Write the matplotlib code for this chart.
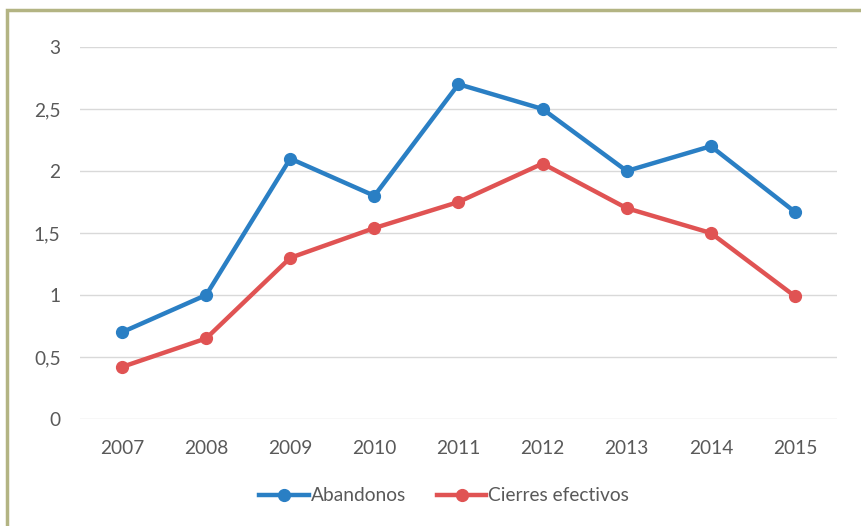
import matplotlib
matplotlib.use("Agg")
import matplotlib.pyplot as plt
from matplotlib.patches import Rectangle
from matplotlib.ticker import FuncFormatter

years = ["2007", "2008", "2009", "2010", "2011", "2012", "2013", "2014", "2015"]
abandonos = [0.7, 1.0, 2.1, 1.8, 2.7, 2.5, 2.0, 2.2, 1.67]
cierres = [0.42, 0.65, 1.30, 1.54, 1.75, 2.06, 1.70, 1.50, 0.99]
yticks = [0, 0.5, 1, 1.5, 2, 2.5, 3]

plt.rcParams['font.family'] = ['Lato', 'DejaVu Sans']

W, H = 862, 526
fig = plt.figure(figsize=(W / 100, H / 100), dpi=100)
fig.patch.set_facecolor("white")

# frame border
fig.add_artist(Rectangle((7 / W, -0.05), 1.2, 1 - 10 / H + 0.05,
                         transform=fig.transFigure, fill=False,
                         edgecolor="#b3b483", linewidth=2.5))

ax = fig.add_axes([80 / W, 1 - 419 / H, (837 - 80) / W, (419 - 47) / H])
x = list(range(len(years)))
blue = "#2a7fc4"
red = "#e05353"
ax.plot(x, abandonos, color=blue, lw=3.2, marker="o", ms=8.5, label="Abandonos", zorder=3)
ax.plot(x, cierres, color=red, lw=3.2, marker="o", ms=8.5, label="Cierres efectivos", zorder=3)

ax.set_xlim(-0.5, len(years) - 0.5)
ax.set_ylim(0, 3)
ax.set_yticks(yticks)
ax.yaxis.set_major_formatter(FuncFormatter(lambda v, p: ("%g" % v).replace(".", ",")))
ax.set_xticks(x)
ax.set_xticklabels(years)
ax.grid(axis="y", color="#d9d9d9", lw=1)
ax.set_axisbelow(True)
for s in ax.spines.values():
    s.set_visible(False)
ax.tick_params(length=0, labelsize=13.8, labelcolor="#595959")
ax.tick_params(axis="y", pad=14)
ax.tick_params(axis="x", pad=15)

leg = ax.legend(loc="upper center", bbox_to_anchor=(0.481, -0.137), ncol=2, frameon=False,
                fontsize=13.8, handlelength=2.6, columnspacing=1.6, handletextpad=0.1)
for t in leg.get_texts():
    t.set_color("#595959")

fig.savefig("out.png", dpi=100, facecolor="white")
